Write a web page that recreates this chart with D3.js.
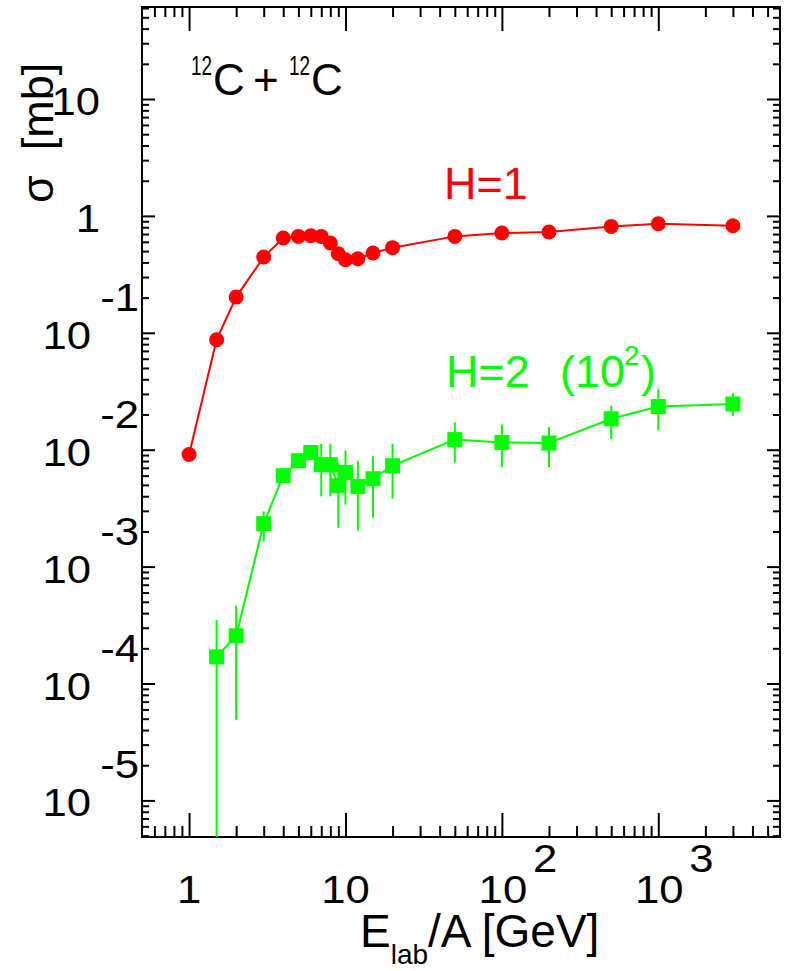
<!DOCTYPE html>
<html>
<head>
<meta charset="utf-8">
<script src="https://cdn.jsdelivr.net/npm/d3@7"></script>
<style>
  html, body { margin: 0; padding: 0; background: #fff; }
  svg { display: block; }
  text { font-family: "Liberation Sans", Arial, Helvetica, sans-serif; }
</style>
</head>
<body>
<svg id="chart" width="787" height="971"></svg>
<script>
// ---------------------------------------------------------------------------
// data: cross sections for 12C + 12C
// ---------------------------------------------------------------------------
var energyH1 = [1, 1.5, 2, 3, 4, 5, 6, 7, 8, 9, 10, 12, 15, 20, 50, 100, 200, 500, 1000, 3000];
var sigmaH1 = [0.0091, 0.0873, 0.202, 0.445, 0.647, 0.668, 0.677, 0.668, 0.586, 0.475,
               0.422, 0.430, 0.482, 0.535, 0.668, 0.714, 0.728, 0.813, 0.857, 0.824];

var energyH2 = [1.5, 2, 3, 4, 5, 6, 7, 8, 9, 10, 12, 15, 20, 50, 100, 200, 500, 1000, 3000];
var sigmaH2 = [1.69e-4, 2.56e-4, 2.33e-3, 6.0e-3, 8.05e-3, 9.48e-3, 7.44e-3, 7.44e-3, 4.92e-3,
               6.39e-3, 4.85e-3, 5.65e-3, 7.30e-3, 0.0122, 0.01154, 0.0114, 0.0184, 0.0234, 0.0246];
var errHighH2 = [3.5e-4, 4.63e-4, 2.97e-3, 6.6e-3, 8.89e-3, 0.0104, 0.01125, 0.01125, 7.74e-3,
                 9.86e-3, 8.05e-3, 8.77e-3, 0.01125, 0.01713, 0.01637, 0.01563, 0.0238, 0.0331, 0.0306];
var errLowH2 = [1e-6, 4.9e-5, 1.64e-3, 5.43e-3, 7.3e-3, 8.55e-3, 3.99e-3, 3.99e-3, 2.15e-3,
                3.39e-3, 2.03e-3, 2.62e-3, 3.81e-3, 7.78e-3, 7.11e-3, 7.11e-3, 0.01235, 0.01463, 0.01954];

var xDecades = [0, 1, 2, 3];
var yDecades = [1, 0, -1, -2, -3, -4, -5];

//^^^^^^^^^^^^^^^^^^^^^^^^^^^^^^^^^^^^^^^^^^^^^^^^^^^^^^^^^^^^^^^^^^^^^^^^^^^^^^
// layout
//------------------------------------------------------------------------------
var frameL = 142, frameR = 780, frameT = 7, frameB = 837;
var red = "#ff0000", green = "#00ff00";

var svg = d3.select("#chart");

var x = d3.scaleLog().domain([0.5, 6000]).range([frameL, frameR]);
var y = d3.scaleLog().domain([Math.pow(10, -5.313), Math.pow(10, 1.787)]).range([frameB, frameT]);

function minorTicks(scale) {
    var d = scale.domain(), out = [];
    var lo = Math.min(d[0], d[1]), hi = Math.max(d[0], d[1]);
    for (var k = Math.floor(Math.log10(lo)); k <= Math.ceil(Math.log10(hi)); k++) {
        for (var m = 2; m <= 9; m++) {
            var v = m * Math.pow(10, k);
            if (v > lo * 1.001 && v < hi * 0.999) out.push(v);
        }
    }
    return out;
}

var xMajor = xDecades.map(function(e) { return Math.pow(10, e); }),
    yMajor = yDecades.map(function(e) { return Math.pow(10, e); });

//^^^^^^^^^^^^^^^^^^^^^^^^^^^^^^^^^^^^^^^^^^^^^^^^^^^^^^^^^^^^^^^^^^^^^^^^^^^^^^
// ticks on all four sides, pointing inwards
//------------------------------------------------------------------------------
function tickAxis(axis, values, size, transform) {
    var g = svg.append("g")
        .attr("transform", transform)
        .call(axis.tickValues(values).tickSizeInner(-size).tickSizeOuter(0).tickFormat(""));
    g.select(".domain").remove();
    g.selectAll("line").attr("stroke", "#000").attr("stroke-width", 2);
}

tickAxis(d3.axisBottom(x), xMajor, 24, "translate(0," + frameB + ")");
tickAxis(d3.axisBottom(x), minorTicks(x), 11, "translate(0," + frameB + ")");
tickAxis(d3.axisTop(x), xMajor, 24, "translate(0," + frameT + ")");
tickAxis(d3.axisTop(x), minorTicks(x), 10, "translate(0," + frameT + ")");
tickAxis(d3.axisLeft(y), yMajor, 13, "translate(" + frameL + ",0)");
tickAxis(d3.axisLeft(y), minorTicks(y), 7, "translate(" + frameL + ",0)");
tickAxis(d3.axisRight(y), yMajor, 13, "translate(" + frameR + ",0)");
tickAxis(d3.axisRight(y), minorTicks(y), 7, "translate(" + frameR + ",0)");

svg.append("rect")
    .attr("x", frameL).attr("y", frameT)
    .attr("width", frameR - frameL).attr("height", frameB - frameT)
    .attr("fill", "none").attr("stroke", "#000").attr("stroke-width", 2);

//^^^^^^^^^^^^^^^^^^^^^^^^^^^^^^^^^^^^^^^^^^^^^^^^^^^^^^^^^^^^^^^^^^^^^^^^^^^^^^
// tick labels (the figure's digits are a bit wider than Helvetica)
//------------------------------------------------------------------------------
function wideText(px, py, str, anchor, size) {
    return svg.append("text")
        .attr("transform", "translate(" + px + "," + py + ") scale(1.12,1)")
        .attr("text-anchor", anchor)
        .attr("font-size", size)
        .attr("fill", "#000")
        .text(str);
}

yDecades.forEach(function(e) {
    var ty = y(Math.pow(10, e));
    if (e === 1) wideText(100, ty + 16, "10", "end", 39);
    else if (e === 0) wideText(100, ty + 16, "1", "end", 39);
    else {
        wideText(91, ty + 16, "10", "end", 39);
        wideText(139, ty - 22, String(e), "end", 39);
    }
});

xDecades.forEach(function(e) {
    var tx = x(Math.pow(10, e));
    if (e === 0) wideText(tx, 903, "1", "middle", 39);
    else if (e === 1) wideText(tx, 903, "10", "middle", 39);
    else {
        wideText(tx + 1, 903, "10", "middle", 39);
        wideText(tx + 31, 872, String(e), "start", 39);
    }
});

//^^^^^^^^^^^^^^^^^^^^^^^^^^^^^^^^^^^^^^^^^^^^^^^^^^^^^^^^^^^^^^^^^^^^^^^^^^^^^^
// axis titles and annotations
//------------------------------------------------------------------------------
var xt = svg.append("text").attr("font-size", 46).attr("fill", "#000");
xt.append("tspan").attr("x", 360).attr("y", 947).text("E");
xt.append("tspan").attr("font-size", 28).attr("dy", 17).text("lab");
xt.append("tspan").attr("dy", -17).text("/A [GeV]");

svg.append("text")
    .attr("transform", "translate(53,203) rotate(-90)")
    .attr("font-size", 45)
    .attr("fill", "#000")
    .style("white-space", "pre")
    .text("\u03c3  [mb]");

// superscripted mass numbers are narrow in the figure
function isotope(px) {
    var t = svg.append("text").attr("font-size", 44).attr("fill", "#000");
    t.append("tspan").attr("x", px).attr("y", 75).attr("font-size", 27)
        .attr("textLength", 21).attr("lengthAdjust", "spacingAndGlyphs").text("12");
    t.append("tspan").attr("x", px + 22).attr("y", 95).text("C");
}
isotope(191);
isotope(289);
svg.append("text").attr("x", 253).attr("y", 95)
    .attr("font-size", 44).attr("fill", "#000").text("+");

svg.append("text")
    .attr("x", 444).attr("y", 199)
    .attr("font-size", 45).attr("fill", red)
    .text("H=1");

var h2 = svg.append("text").attr("font-size", 45).attr("fill", green);
h2.append("tspan").attr("x", 446).attr("y", 387).text("H=2");
h2.append("tspan").attr("x", 560).attr("y", 387).text("(10");
h2.append("tspan").attr("x", 624).attr("y", 365).attr("font-size", 28).text("2");
h2.append("tspan").attr("x", 641).attr("y", 387).text(")");

//^^^^^^^^^^^^^^^^^^^^^^^^^^^^^^^^^^^^^^^^^^^^^^^^^^^^^^^^^^^^^^^^^^^^^^^^^^^^^^
// data
//------------------------------------------------------------------------------
svg.append("defs").append("clipPath").attr("id", "plotclip")
    .append("rect")
    .attr("x", frameL).attr("y", frameT)
    .attr("width", frameR - frameL).attr("height", frameB - frameT);

var plot = svg.append("g").attr("clip-path", "url(#plotclip)");

var h1Data = energyH1.map(function(e, i) { return { e: e, s: sigmaH1[i] }; });
var h2Data = energyH2.map(function(e, i) {
    return { e: e, s: sigmaH2[i], lo: errLowH2[i], hi: errHighH2[i] };
});

var line = d3.line()
    .x(function(d) { return x(d.e); })
    .y(function(d) { return y(d.s); });

plot.append("path")
    .datum(h1Data)
    .attr("d", line)
    .attr("fill", "none")
    .attr("stroke", red)
    .attr("stroke-width", 2);

plot.append("path")
    .datum(h2Data)
    .attr("d", line)
    .attr("fill", "none")
    .attr("stroke", green)
    .attr("stroke-width", 2);

plot.selectAll("line.err")
    .data(h2Data)
    .enter().append("line")
    .attr("class", "err")
    .attr("x1", function(d) { return x(d.e); })
    .attr("x2", function(d) { return x(d.e); })
    .attr("y1", function(d) { return y(d.hi); })
    .attr("y2", function(d) { return y(d.lo); })
    .attr("stroke", green)
    .attr("stroke-width", 2);

plot.selectAll("circle.h1")
    .data(h1Data)
    .enter().append("circle")
    .attr("class", "h1")
    .attr("cx", function(d) { return x(d.e); })
    .attr("cy", function(d) { return y(d.s); })
    .attr("r", 7.5)
    .attr("fill", red);

plot.selectAll("rect.h2")
    .data(h2Data)
    .enter().append("rect")
    .attr("class", "h2")
    .attr("x", function(d) { return x(d.e) - 7.5; })
    .attr("y", function(d) { return y(d.s) - 7.5; })
    .attr("width", 15)
    .attr("height", 15)
    .attr("fill", green);
</script>
</body>
</html>
